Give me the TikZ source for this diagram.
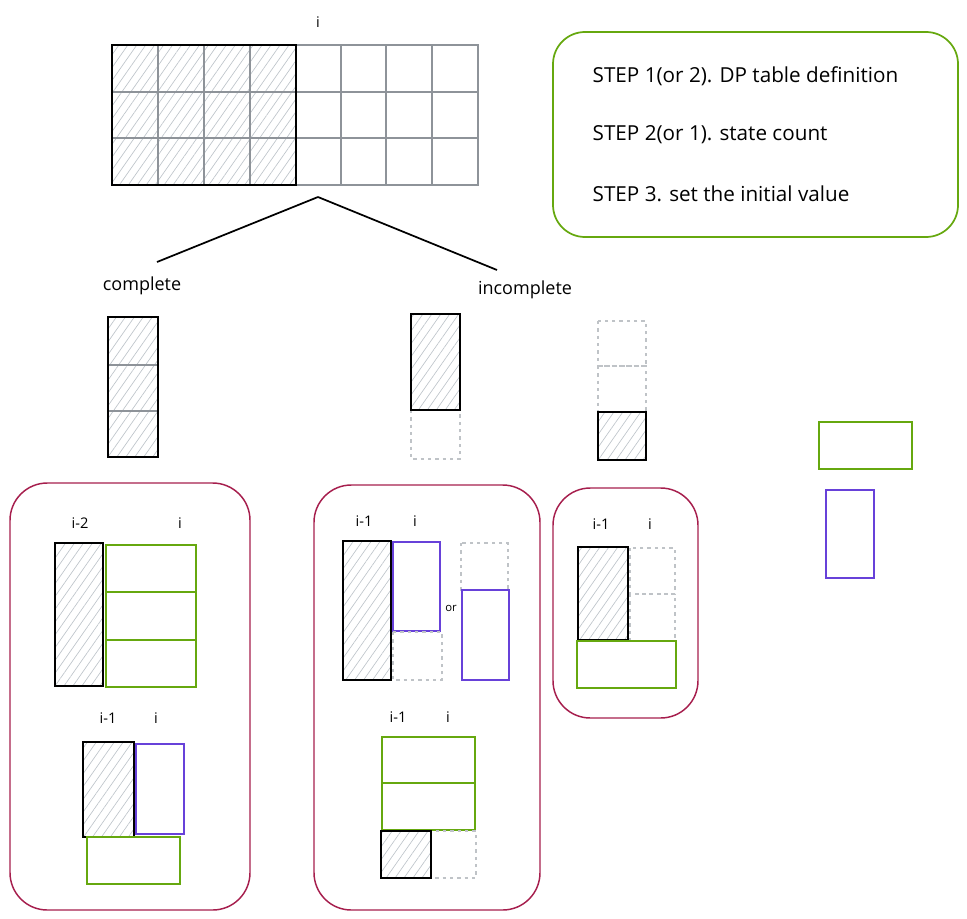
\documentclass[tikz,border=0pt]{standalone}
\usepackage{fontspec}
\setmainfont{Open Sans}
\usetikzlibrary{patterns.meta}

\definecolor{dpgreen}{HTML}{66A80F}
\definecolor{dppurple}{HTML}{6741D9}
\definecolor{dpcase}{HTML}{A61E4D}
\definecolor{dpgrid}{HTML}{8E9399}
\definecolor{dphatch}{HTML}{BEC4CA}
\definecolor{dpdot}{HTML}{BFC3C7}

\tikzset{
  hatched/.style={pattern={Lines[angle=55,distance=5.5pt,line width=0.5pt]}, pattern color=dphatch},
  doneedge/.style={draw=black, line width=1.8pt},
  cellline/.style={draw=dpgrid, line width=1pt},
  emptycell/.style={draw=dpdot, line width=1pt, dash pattern=on 2.5pt off 3pt},
  greenbox/.style={draw=dpgreen, line width=1.6pt},
  purplebox/.style={draw=dppurple, line width=1.6pt},
  casebox/.style={draw=dpcase, line width=1.1pt, rounded corners=28pt},
  stepsbox/.style={draw=dpgreen, line width=1.3pt, rounded corners=24pt},
  idx/.style={font=\fontsize{11}{13}\selectfont},
  tag/.style={font=\fontsize{13.5}{16}\selectfont},
  steptext/.style={font=\fontsize{15.5}{18}\selectfont, anchor=west}
}

\begin{document}
\begin{tikzpicture}[x=0.75pt, y=-0.75pt]
  \useasboundingbox (0,0) rectangle (967,918);

  % whole table
  \fill[hatched] (112,45) rectangle (296,185);
  \foreach \x in {158,204,250,296,341,386,432} \draw[cellline] (\x,45) -- (\x,185);
  \foreach \y in {92,138} \draw[cellline] (112,\y) -- (478,\y);
  \draw[cellline] (296,45) rectangle (478,185);
  \draw[doneedge] (112,45) rectangle (296,185);
  \node[idx] (itop) at (318,22) {i};

  \coordinate (split) at (318,197);
  \coordinate (lend) at (157,262);
  \coordinate (rend) at (497,270);
  \draw[line width=1.3pt] (split) -- (lend);
  \draw[line width=1.3pt] (split) -- (rend);
  \node[tag] (complete) at (142,286) {complete};
  \node[tag] (incomplete) at (525,290) {incomplete};

  % steps
  \draw[stepsbox] (553,32) rectangle (958,237);
  \node[steptext] (step1) at (588,76) {STEP 1(or 2). DP table definition};
  \node[steptext] (step2) at (588,135) {STEP 2(or 1). state count};
  \node[steptext] (step3) at (588,194) {STEP 3. set the initial value};

  % column shapes
  \fill[hatched] (108,317) rectangle (158,457);
  \draw[cellline] (108,365) -- (158,365);
  \draw[cellline] (108,411) -- (158,411);
  \draw[doneedge] (108,317) rectangle (158,457);

  \draw[emptycell] (411,410) rectangle (460,459);
  \draw[doneedge, hatched] (411,314) rectangle (460,410);

  \draw[emptycell] (598,321) rectangle (646,366);
  \draw[emptycell] (598,366) rectangle (646,412);
  \draw[doneedge, hatched] (598,412) rectangle (646,460);

  % legend
  \draw[greenbox] (819,422) rectangle (912,469);
  \draw[purplebox] (826,490) rectangle (874,578);

  % case complete
  \draw[casebox] (10,483) rectangle (250,910);
  \node[idx] (ca1) at (80,523) {i-2};
  \node[idx] (ca2) at (180,523) {i};
  \draw[doneedge, hatched] (55,543) rectangle (103,686);
  \draw[greenbox] (106,545) rectangle (196,592);
  \draw[greenbox] (106,592) rectangle (196,640);
  \draw[greenbox] (106,640) rectangle (196,687);
  \node[idx] (cb1) at (108,718) {i-1};
  \node[idx] (cb2) at (156,718) {i};
  \draw[doneedge, hatched] (83,742) rectangle (134,837);
  \draw[purplebox] (136,744) rectangle (184,834);
  \draw[greenbox] (87,837) rectangle (180,884);

  % case incomplete
  \draw[casebox] (314,485) rectangle (540,910);
  \node[idx] (ia1) at (364,521) {i-1};
  \node[idx] (ia2) at (415,521) {i};
  \draw[doneedge, hatched] (343,541) rectangle (391,680);
  \draw[purplebox] (393,542) rectangle (440,631);
  \draw[emptycell] (393,632) rectangle (442,680);
  \node[font=\fontsize{8.5}{10}\selectfont] (or) at (451,608) {or};
  \draw[emptycell] (461,543) rectangle (508,590);
  \draw[purplebox] (462,590) rectangle (509,680);
  \node[idx] (ib1) at (398,717) {i-1};
  \node[idx] (ib2) at (448,717) {i};
  \draw[greenbox] (382,737) rectangle (475,783);
  \draw[greenbox] (382,783) rectangle (475,830);
  \draw[emptycell] (431,831) rectangle (476,878);
  \draw[doneedge, hatched] (381,831) rectangle (431,878);

  % case half
  \draw[casebox] (553,488) rectangle (698,718);
  \node[idx] (ha1) at (601,524) {i-1};
  \node[idx] (ha2) at (650,524) {i};
  \draw[emptycell] (630,548) rectangle (675,594);
  \draw[emptycell] (630,594) rectangle (675,641);
  \draw[doneedge, hatched] (578,547) rectangle (628,640);
  \draw[greenbox] (577,641) rectangle (676,688);
\end{tikzpicture}
\end{document}
